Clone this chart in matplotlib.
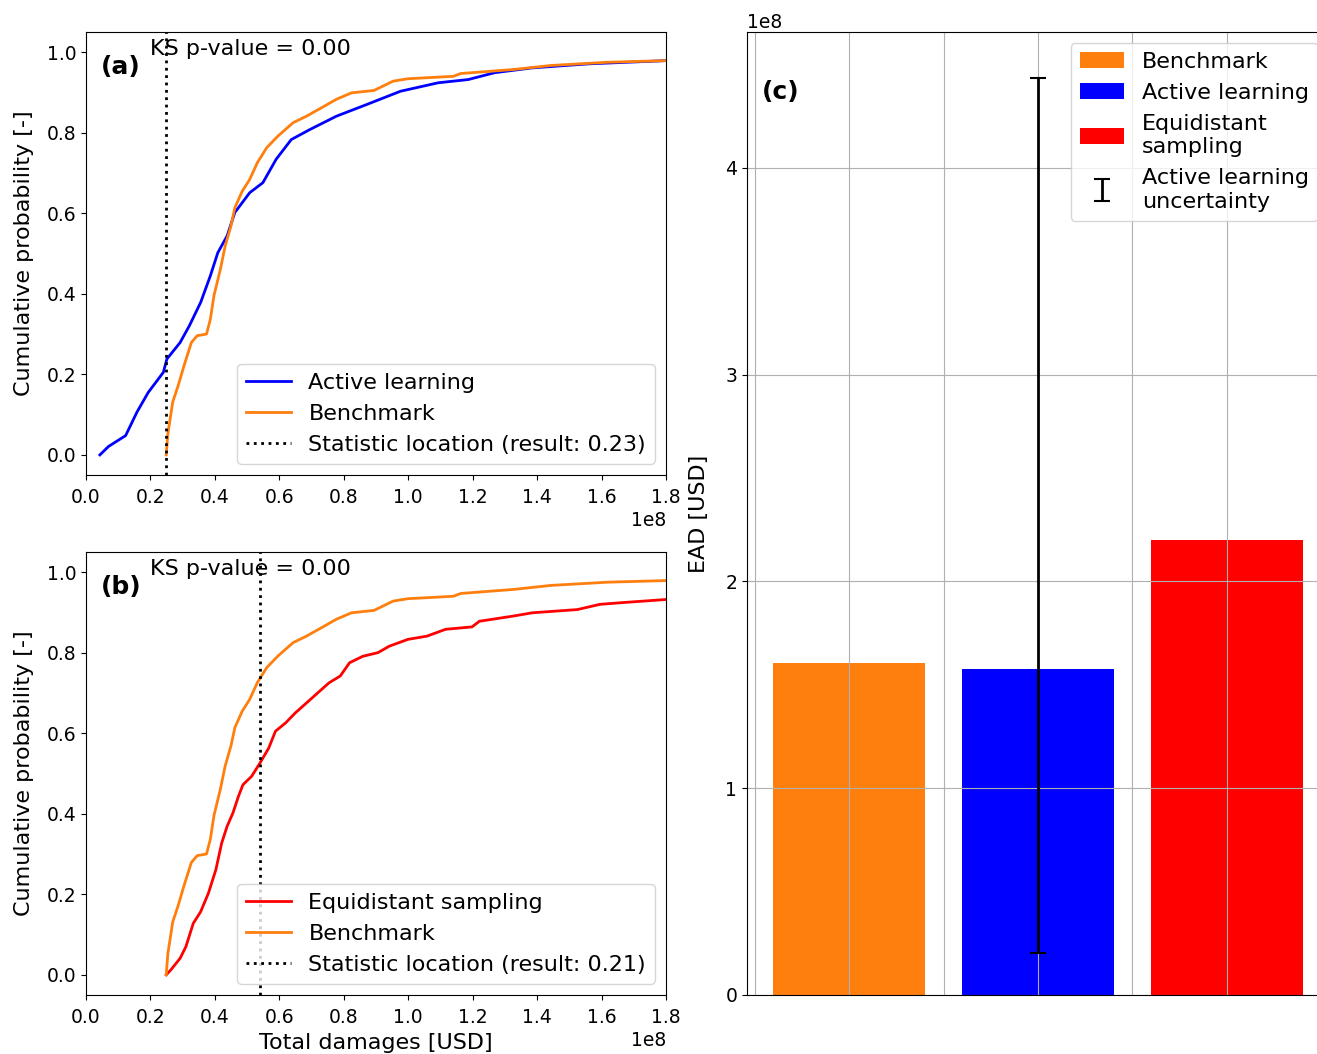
import numpy as np
import matplotlib
matplotlib.use("Agg")
import matplotlib.pyplot as plt

# ECDF curves (x in 1e8 USD, y cumulative probability)
active_x = [0.043, 0.070, 0.123, 0.158, 0.193, 0.240, 0.251, 0.292, 0.321, 0.356,
            0.386, 0.409, 0.438, 0.462, 0.508, 0.549, 0.590, 0.637, 0.695, 0.777,
            0.871, 0.976, 1.093, 1.186, 1.268, 1.385, 1.560, 1.80, 2.0]
active_y = [0.0, 0.021, 0.048, 0.106, 0.155, 0.205, 0.238, 0.279, 0.321, 0.379,
            0.445, 0.502, 0.544, 0.602, 0.651, 0.676, 0.734, 0.783, 0.808, 0.841,
            0.870, 0.903, 0.924, 0.932, 0.949, 0.961, 0.971, 0.979, 1.0]

bench_x = [0.249, 0.254, 0.269, 0.286, 0.304, 0.327, 0.345, 0.374, 0.386, 0.397,
           0.417, 0.432, 0.450, 0.462, 0.485, 0.508, 0.532, 0.561, 0.596, 0.643,
           0.684, 0.731, 0.777, 0.824, 0.894, 0.953, 0.999, 1.140, 1.163, 1.327,
           1.443, 1.619, 1.80, 2.0]
bench_y = [0.0, 0.052, 0.131, 0.172, 0.221, 0.279, 0.296, 0.300, 0.337, 0.395,
           0.461, 0.519, 0.569, 0.614, 0.655, 0.684, 0.726, 0.763, 0.792, 0.825,
           0.841, 0.862, 0.883, 0.899, 0.905, 0.928, 0.934, 0.940, 0.947, 0.957,
           0.967, 0.975, 0.979, 1.0]

equi_x = [0.249, 0.263, 0.292, 0.310, 0.333, 0.356, 0.380, 0.403, 0.421, 0.438,
          0.456, 0.473, 0.487, 0.514, 0.540, 0.567, 0.588, 0.620, 0.649, 0.684,
          0.719, 0.754, 0.789, 0.818, 0.859, 0.906, 0.941, 0.999, 1.058, 1.116,
          1.198, 1.221, 1.327, 1.385, 1.525, 1.595, 1.677, 1.80, 2.0]
equi_y = [0.0, 0.012, 0.041, 0.070, 0.128, 0.157, 0.203, 0.261, 0.327, 0.369,
          0.402, 0.443, 0.472, 0.493, 0.526, 0.563, 0.605, 0.626, 0.650, 0.675,
          0.700, 0.725, 0.742, 0.775, 0.791, 0.800, 0.816, 0.833, 0.841, 0.858,
          0.864, 0.878, 0.891, 0.899, 0.907, 0.920, 0.925, 0.932, 0.95]

ks_loc_a = 0.249e8
ks_loc_b = 0.540e8
ks_stat_a = 0.23
ks_stat_b = 0.21
ks_pvalue = 0.00

# EAD bars
methods = ["Benchmark", "Active learning", "Equidistant\nsampling"]
ead = [1.606e8, 1.577e8, 2.20e8]
bar_colors = ["#ff7f0e", "blue", "red"]
al_low = 0.203e8
al_high = 4.435e8

scale = 1e8
fig = plt.figure(figsize=(13.17, 10.54), dpi=100)
ax_a = fig.add_axes([0.0653, 0.5493, 0.4404, 0.4203])
ax_b = fig.add_axes([0.0653, 0.056, 0.4404, 0.4203])
ax_c = fig.add_axes([0.5672, 0.056, 0.4419, 0.9137])

tick_fs = 13.5
lab_fs = 16
leg_fs = 16
tag_fs = 18

for ax, cx, cy, col, lab, loc, stat, tag in [
        (ax_a, active_x, active_y, "blue", "Active learning", ks_loc_a, ks_stat_a, "(a)"),
        (ax_b, equi_x, equi_y, "red", "Equidistant sampling", ks_loc_b, ks_stat_b, "(b)")]:
    ax.plot(np.array(cx) * scale, cy, color=col, lw=2, label=lab)
    ax.plot(np.array(bench_x) * scale, bench_y, color="#ff7f0e", lw=2, label="Benchmark")
    ax.axvline(loc, color="black", ls=":", lw=2,
               label=f"Statistic location (result: {stat:.2f})")
    ax.set_xlim(0, 1.8e8)
    ax.set_ylim(-0.05, 1.05)
    ax.set_xticks(np.arange(0, 1.81, 0.2) * scale)
    ax.tick_params(labelsize=tick_fs)
    ax.tick_params(axis="x", pad=6)
    ax.xaxis.get_offset_text().set_fontsize(tick_fs)
    ax.set_ylabel("Cumulative probability [-]", fontsize=lab_fs, labelpad=9)
    ax.legend(loc="lower right", fontsize=leg_fs)
    ax.text(0.11, 0.962, f"KS p-value = {ks_pvalue:.2f}", transform=ax.transAxes,
            fontsize=leg_fs, va="center")
    ax.text(0.026, 0.921, tag, transform=ax.transAxes, fontsize=tag_fs,
            fontweight="bold", va="center")

ax_b.set_xlabel("Total damages [USD]", fontsize=lab_fs, labelpad=4)

xpos = np.arange(len(methods))
bars = ax_c.bar(xpos, ead, color=bar_colors, width=0.8)
eb = ax_c.errorbar(xpos[1], ead[1], yerr=[[ead[1] - al_low], [al_high - ead[1]]],
                   fmt="none", ecolor="black", elinewidth=2, capsize=6, capthick=1.5)
ax_c.grid(True)
ax_c.tick_params(axis="x", bottom=False, labelbottom=False)
ax_c.tick_params(labelsize=tick_fs)
ax_c.yaxis.get_offset_text().set_fontsize(tick_fs)
ax_c.set_ylabel("EAD [USD]", fontsize=lab_fs, labelpad=12)
ax_c.text(0.026, 0.938, "(c)", transform=ax_c.transAxes, fontsize=tag_fs,
          fontweight="bold", va="center")
ax_c.legend(list(bars) + [eb], methods + ["Active learning\nuncertainty"],
            loc="upper right", fontsize=leg_fs)

fig.savefig("out.png", dpi=100)
